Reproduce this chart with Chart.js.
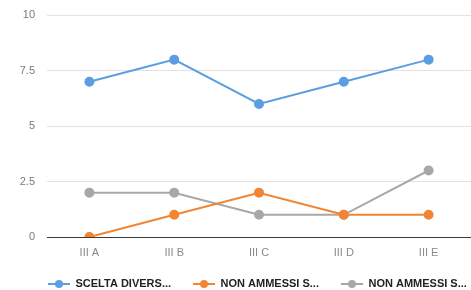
<!DOCTYPE html>
<html>
<head>
<meta charset="utf-8">
<script src="https://cdn.jsdelivr.net/npm/chart.js@4/dist/chart.umd.min.js"></script>
<style>
  body { margin: 0; background: #fff; }
</style>
</head>
<body>
<canvas id="chart" width="471" height="290"></canvas>
<script>
// Data
const categories = ['III A', 'III B', 'III C', 'III D', 'III E'];
const seriesNames = ['SCELTA DIVERS...', 'NON AMMESSI S...', 'NON AMMESSI S...'];
const sceltaDivers = [7, 8, 6, 7, 8];
const nonAmmessiA = [0, 1, 2, 1, 1];
const nonAmmessiB = [2, 2, 1, 1, 3];
const yTicks = [0, 2.5, 5, 7.5, 10];

const colors = ['#5b9ee1', '#f28532', '#a8a8a8'];
const FONT = 'Liberation Sans, Arial, sans-serif';

// line + dot marker for the legend, with empty room on its left as item spacing
function legendMarker(color) {
    const c = document.createElement('canvas');
    c.width = 44;
    c.height = 10;
    const g = c.getContext('2d');
    g.strokeStyle = color;
    g.lineWidth = 2;
    g.beginPath();
    g.moveTo(22, 5);
    g.lineTo(44, 5);
    g.stroke();
    g.fillStyle = color;
    g.beginPath();
    g.arc(33, 5, 4, 0, Math.PI * 2);
    g.fill();
    return c;
}

// move the legend row to where the reference has it
const legendPlace = {
    id: 'legendPlace',
    afterLayout(chart) {
        const lg = chart.legend;
        const dx = 26, top = 278.5;
        lg.left += dx;
        lg.right += dx + 40;
        lg.bottom += top - lg.top;
        lg.top = top;
    },
};

const values = [sceltaDivers, nonAmmessiA, nonAmmessiB];
const datasets = values.map((v, i) => ({
    label: seriesNames[i],
    data: v,
    borderColor: colors[i],
    backgroundColor: colors[i],
    borderWidth: 2,
    pointRadius: 4,
    pointHoverRadius: 4,
    tension: 0,
    fill: false,
}));

new Chart(document.getElementById('chart'), {
    type: 'line',
    data: { labels: categories, datasets: datasets },
    plugins: [legendPlace],
    options: {
        responsive: false,
        animation: false,
        layout: { autoPadding: false, padding: { top: 15.3, right: -3, left: 0, bottom: 0 } },
        plugins: {
            tooltip: { enabled: false },
            legend: {
                position: 'bottom',
                align: 'start',
                labels: {
                    usePointStyle: true,
                    pointStyleWidth: 44,
                    padding: 0,
                    color: '#222',
                    font: { family: FONT, size: 11, weight: 'bold' },
                    generateLabels: chart => chart.data.datasets.map((ds, i) => ({
                        text: ds.label,
                        pointStyle: legendMarker(colors[i]),
                        fontColor: '#222',
                        strokeStyle: colors[i],
                        fillStyle: colors[i],
                        lineWidth: 0,
                        datasetIndex: i,
                    })),
                },
            },
        },
        scales: {
            x: {
                offset: true,
                afterFit: scale => { scale.height = 32; },
                grid: { display: false, drawTicks: false },
                border: { display: false },
                ticks: {
                    color: '#8a8a8a',
                    padding: 9,
                    font: { family: FONT, size: 11 },
                },
            },
            y: {
                min: 0,
                max: 10,
                afterBuildTicks: scale => { scale.ticks = yTicks.map(v => ({ value: v })); },
                afterFit: scale => {
                    scale.width = 47;
                    scale.paddingTop = 0;
                    scale.paddingBottom = 0;
                },
                border: { display: false },
                grid: {
                    drawTicks: false,
                    color: ctx => ctx.tick.value === 0 ? '#3a3a3a' : '#e2e2e2',
                    lineWidth: 1,
                },
                ticks: {
                    color: '#7a7a7a',
                    padding: 12,
                    font: { family: FONT, size: 11 },
                    callback: v => String(v),
                },
            },
        },
    },
});
</script>
</body>
</html>
